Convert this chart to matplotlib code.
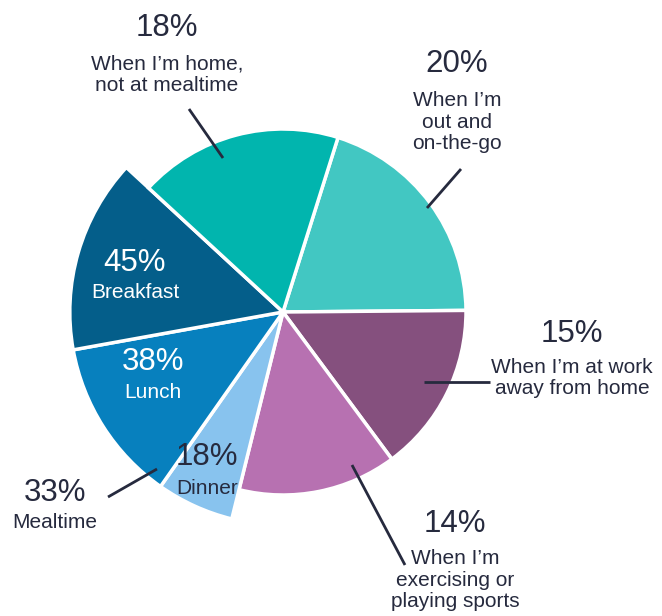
import matplotlib.pyplot as plt

plt.rcParams['font.family'] = ['Liberation Sans', 'DejaVu Sans']

# outer slices, clockwise from the top right
outer_labels = ["When I\u2019m\nout and\non-the-go",
                "When I\u2019m at work\naway from home",
                "When I\u2019m\nexercising or\nplaying sports"]
outer_values = [20, 15, 14]
home_label = "When I\u2019m home,\nnot at mealtime"
home_value = 18

# mealtime slice, split by meal
mealtime_total = 33
meal_labels = ["Dinner", "Lunch", "Breakfast"]
meal_shares = [18, 38, 45]

outer_colors = ["#42c7c2", "#85507e", "#b771b1"]
meal_colors = ["#88c3ee", "#0780be", "#045e8a"]
home_color = "#01b5ae"
ink = "#262a3e"

W, H = 662, 616
fig = plt.figure(figsize=(W / 100, H / 100), dpi=100)
ax = fig.add_axes([0, 0, 1, 1])

def P(x, y):
    # pixel position (y down) -> data coords
    return x, H - y

meal_values = [mealtime_total * s / sum(meal_shares) for s in meal_shares]
values = outer_values + meal_values + [home_value]
colors = outer_colors + meal_colors + [home_color]

R = 183
wedges, _ = ax.pie(values, colors=colors, startangle=72.5, counterclock=False,
                   radius=R, center=P(283, 312),
                   wedgeprops=dict(edgecolor="white", linewidth=2.5))
# mealtime wedges stick out further
for w in wedges[3:6]:
    w.set_radius(R * 1.165)

ax.set_xlim(0, W)
ax.set_ylim(0, H)
ax.set_aspect("equal")
ax.axis("off")

big = 22.5
small = 15

def label(x, y_pct, y_txt, pct, txt, color=ink):
    ax.text(*P(x, y_pct), f"{pct}%", fontsize=big, color=color,
            ha="center", va="center")
    ax.text(*P(x, y_txt), txt, fontsize=small, color=color,
            ha="center", va="center", linespacing=1.15)

# callout labels around the pie
label(167, 28, 75, home_value, home_label)
label(457, 64, 122, outer_values[0], outer_labels[0])
label(572, 334, 378, outer_values[1], outer_labels[1])
label(455, 524, 580, outer_values[2], outer_labels[2])
label(55, 493, 522, mealtime_total, "Mealtime")

# labels inside the mealtime wedges
label(207, 457, 488, meal_shares[0], meal_labels[0])
label(153, 362, 393, meal_shares[1], meal_labels[1], color="white")
label(135, 263, 292, meal_shares[2], meal_labels[2], color="white")

# leader lines
leaders = [((189, 109), (223, 158)),
           ((461, 169), (427, 208)),
           ((424, 382), (490, 382)),
           ((352, 465), (405, 565)),
           ((108, 497), (157, 469))]
for (x0, y0), (x1, y1) in leaders:
    ax.plot([x0, x1], [H - y0, H - y1], color=ink, lw=2, solid_capstyle="butt")

fig.savefig("out.png", dpi=100)
